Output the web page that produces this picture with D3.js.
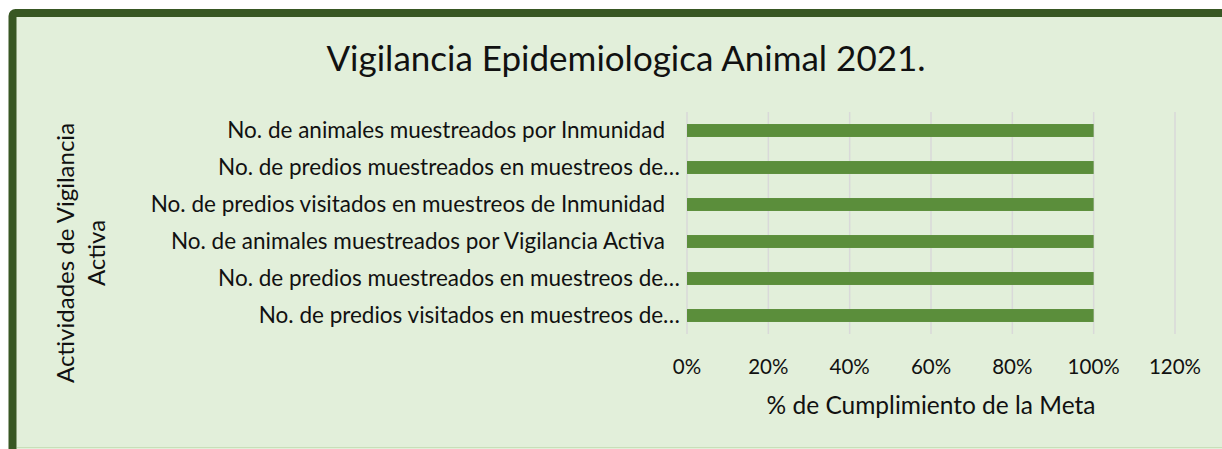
<!DOCTYPE html>
<html>
<head>
<meta charset="utf-8">
<script src="https://cdn.jsdelivr.net/npm/d3@7"></script>
<style>
  body { margin: 0; background: #fff; }
  svg { display: block; font-family: Lato, "Open Sans", sans-serif; }
</style>
</head>
<body>
<svg width="1222" height="449"></svg>
<script>
const categories = [
  "No. de animales muestreados por Inmunidad",
  "No. de predios muestreados en muestreos de…",
  "No. de predios visitados en muestreos de Inmunidad",
  "No. de animales muestreados por Vigilancia Activa",
  "No. de predios muestreados en muestreos de…",
  "No. de predios visitados en muestreos de…"
];
const values = [1, 1, 1, 1, 1, 1];
const ticks = [0, 0.2, 0.4, 0.6, 0.8, 1, 1.2];

const svg = d3.select("svg");

// frame, cut off at the right and bottom like the source picture
svg.append("rect")
  .attr("x", 12.5).attr("y", 13)
  .attr("width", 1400).attr("height", 600)
  .attr("rx", 3)
  .attr("fill", "#e2efda")
  .attr("stroke", "#385723")
  .attr("stroke-width", 8);

svg.append("line")
  .attr("x1", 17).attr("x2", 1222)
  .attr("y1", 447.5).attr("y2", 447.5)
  .attr("stroke", "#c8dfb8");

const x = d3.scaleLinear().domain([0, 1.2]).range([687, 1175]);
const y = d3.scaleBand()
  .domain(d3.range(categories.length))
  .range([112, 334])
  .paddingInner(0.65)
  .paddingOuter(0.325);

// gridlines
svg.append("g")
  .selectAll("line")
  .data(ticks)
  .join("line")
  .attr("x1", d => x(d)).attr("x2", d => x(d))
  .attr("y1", 112).attr("y2", 334)
  .attr("stroke", "#d9d9d9")
  .attr("stroke-width", 1.5);

// bars
svg.append("g")
  .selectAll("rect")
  .data(values)
  .join("rect")
  .attr("x", x(0))
  .attr("y", (d, i) => y(i))
  .attr("width", d => x(d) - x(0))
  .attr("height", y.bandwidth())
  .attr("fill", "#5b8e3b");

// category labels
svg.append("g")
  .selectAll("text")
  .data(categories)
  .join("text")
  .attr("x", d => d.endsWith("…") ? 680 : 665)
  .attr("y", (d, i) => y(i) + y.bandwidth() / 2)
  .attr("dy", "0.35em")
  .attr("text-anchor", "end")
  .attr("font-size", 22.5)
  .attr("fill", "#111")
  .text(d => d);

// x tick labels
svg.append("g")
  .selectAll("text")
  .data(ticks)
  .join("text")
  .attr("x", d => x(d))
  .attr("y", 367)
  .attr("dy", "0.35em")
  .attr("text-anchor", "middle")
  .attr("font-size", 20.5)
  .attr("fill", "#111")
  .text(d3.format(".0%"));

// axis title
svg.append("text")
  .attr("x", (x(0) + x(1.2)) / 2)
  .attr("y", 405)
  .attr("dy", "0.35em")
  .attr("text-anchor", "middle")
  .attr("font-size", 24.5)
  .attr("fill", "#111")
  .text("% de Cumplimiento de la Meta");

// y axis title, two lines
const yTitle = svg.append("text")
  .attr("transform", "translate(81,253) rotate(-90)")
  .attr("text-anchor", "middle")
  .attr("font-size", 24)
  .attr("fill", "#111");
yTitle.append("tspan").attr("x", 0).attr("y", -15.5).attr("dy", "0.35em").text("Actividades de Vigilancia");
yTitle.append("tspan").attr("x", 0).attr("y", 15.5).attr("dy", "0.35em").text("Activa");

// chart title
svg.append("text")
  .attr("x", 626)
  .attr("y", 59)
  .attr("dy", "0.35em")
  .attr("text-anchor", "middle")
  .attr("font-size", 35)
  .attr("fill", "#111")
  .text("Vigilancia Epidemiologica Animal 2021.");
</script>
</body>
</html>
